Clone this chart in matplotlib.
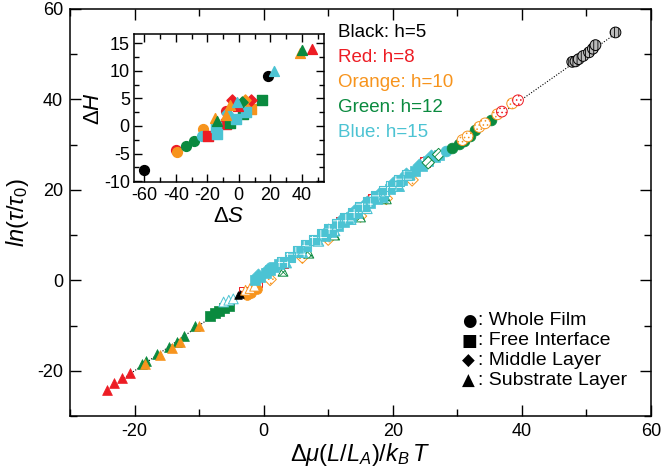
import numpy as np
import matplotlib
matplotlib.use("Agg")
import matplotlib.pyplot as plt

plt.rcParams['font.family'] = ['Liberation Sans', 'DejaVu Sans']
plt.rcParams['mathtext.fontset'] = 'custom'
plt.rcParams['mathtext.rm'] = 'Liberation Sans'
plt.rcParams['mathtext.it'] = 'Liberation Sans:italic'
plt.rcParams['axes.unicode_minus'] = False
plt.rcParams['hatch.linewidth'] = 0.6

# colours per film thickness
c_black = "#000000"
c_red = "#ed1c24"
c_orange = "#f7941d"
c_green = "#0a8a3f"
c_blue = "#4cc3d3"

# ---- main panel data ----
# h=5 (black)
h5_circ_x = [47.8, 48.3, 48.8, 49.5, 50.4, 51.0, 51.4, 54.5]
h5_circ_y = [48.3, 48.4, 48.9, 49.6, 50.4, 51.2, 52.0, 54.8]
h5_tri_x = [-4.0, -3.6]
h5_tri_y = [-3.3, -3.0]

# h=8 (red)
h8_tri_x = [-24.3, -23.2, -22.0, -20.7]
h8_tri_y = [-24.3, -22.8, -21.7, -20.4]
h8_circ_x = [36.9, 39.4]
h8_circ_y = [37.3, 39.8]
h8_sq_x = [-3.0, -1.0, 3.0, 8.0, 12.0, 17.0, 21.0, 25.0]
h8_sq_y = [-2.6, -0.3, 3.9, 9.0, 13.0, 18.1, 22.1, 26.1]

# h=10 (orange)
h10_tri_x = [-18.4, -16.0, -14.2, -12.9, -10.0]
h10_tri_y = [-18.6, -16.5, -14.9, -13.6, -10.1]
h10_otri_x = [-2.8, -2.1, -1.4]
h10_otri_y = [-2.2, -1.8, -1.3]
h10_fcirc_x = [-2.6, -2.0, -1.0]
h10_fcirc_y = [-3.3, -2.9, -2.0]
h10_circ_x = [30.8, 31.6, 33.4, 34.3, 36.2, 38.5]
h10_circ_y = [31.0, 31.8, 33.9, 34.7, 36.7, 39.1]
h10_sq_x = [1.0, 6.0, 10.0, 15.0, 19.0, 23.0]
h10_sq_y = [0.2, 5.1, 9.1, 14.2, 18.1, 22.2]

# h=12 (green)
h12_tri_x = [-18.9, -18.2, -16.5, -14.7, -13.4, -12.4, -10.6]
h12_tri_y = [-18.5, -17.8, -16.3, -14.8, -13.7, -12.2, -10.2]
h12_sq_x = [-8.3, -7.6, -6.9, -6.1, -5.4]
h12_sq_y = [-7.8, -7.2, -6.8, -6.2, -5.6]
h12_circ_x = [29.2, 30.3, 31.0, 32.0, 32.8, 35.2]
h12_circ_y = [29.3, 30.2, 30.9, 31.8, 33.3, 35.4]
h12_dia_x = [25.5, 27.1]
h12_dia_y = [26.0, 27.8]
h12_otri_x = [3.0, 7.0, 11.0, 15.0, 19.0]
h12_otri_y = [2.0, 6.0, 10.0, 14.0, 18.0]

# h=15 (blue)
h15_otri_x = [-6.2, -5.4, -4.7]
h15_otri_y = [-4.8, -4.4, -4.1]
h15_fsq_x = [-1.3, -0.5, 0.3, 1.0, 1.6, 2.3, 9.5, 10.5, 11.5, 12.5, 13.5, 14.5, 15.5, 16.5,
             17.5, 18.5, 19.5, 20.5, 21.5, 22.5, 23.5, 24.5, 25.5, 26.5, 27.2]
h15_fsq_y = [0.0, 0.8, 1.6, 2.3, 3.0, 3.7, 9.8, 10.6, 11.9, 12.8, 13.9, 14.9, 16.0, 17.1,
             18.0, 19.1, 20.1, 21.1, 22.2, 23.2, 24.2, 25.2, 26.3, 27.2, 27.8]
h15_fdia_x = [-0.8, 0.6, 10.0, 12.0, 14.0, 16.0, 18.0, 20.0, 22.0, 24.0, 26.0]
h15_fdia_y = [1.2, 2.6, 11.2, 13.3, 15.3, 17.4, 19.4, 21.5, 23.6, 25.5, 27.4]
h15_sq_x = [2.8, 4.1, 5.4, 6.6, 7.8, 9.0, 10.2, 11.4, 12.6, 13.8, 15.0, 16.2, 17.4, 18.6, 19.8, 21.0, 22.2]
h15_sq_y = [4.0, 5.2, 6.4, 7.7, 8.9, 10.1, 11.3, 12.5, 13.7, 14.9, 16.1, 17.3, 18.5, 19.7, 20.9, 22.1, 23.3]
h15_stri_x = [3.5, 6.0, 8.5, 11.0, 13.5, 16.0, 18.5, 21.0]
h15_stri_y = [3.9, 6.2, 8.7, 11.0, 13.5, 15.9, 18.4, 20.8]
h15_circ_x = [28.2]
h15_circ_y = [28.5]

# guide line
fit_x = [-22.0, 55.0]
fit_y = [-22.0, 55.0]

# ---- inset data (dS, dH) ----
in_black_x = [-60.0, 18.3]
in_black_y = [-8.0, 9.0]
in_red_circ = ([-39.7, -7.9], [-4.4, 2.7])
in_red_sq = ([-19.6, -7.9], [-1.9, 0.4])
in_red_dia = ([-4.3, 7.9], [4.7, 4.7])
in_red_tri = ([-0.5, 46.5], [3.6, 13.9])
in_or_circ = ([-39.1, -22.4], [-4.8, -0.6])
in_or_sq = ([7.7], [3.0])
in_or_dia = ([4.1], [4.7])
in_or_tri = ([-15.4, -7.9, -5.8, 39.1], [1.4, 2.0, 3.9, 13.3])
in_gr_circ = ([-33.6, -28.3], [-3.6, -2.8])
in_gr_sq = ([-5.4, 2.6, 14.7], [0.6, 2.2, 4.7])
in_gr_dia = ([2.0], [4.4])
in_gr_tri = ([-13.9, 40.1], [0.9, 13.8])
in_bl_circ = ([-23.4], [-1.8])
in_bl_sq = ([-14.3, -13.9, -1.6, 4.8], [-0.2, -1.5, 1.2, 2.5])
in_bl_dia = ([-7.5], [2.4])
in_bl_tri = ([-1.2, 22.1], [4.4, 10.0])

fig = plt.figure(figsize=(6.64, 4.72), dpi=100)
ax = fig.add_axes([0.1054, 0.1186, 0.875, 0.8625])

ax.plot(fit_x, fit_y, ls=(0, (1, 1.5)), color="black", lw=0.8, zorder=1)

s = 50
def filled(x, y, c, m, sz=s):
    ax.scatter(x, y, s=sz, marker=m, color=c, edgecolors=c, linewidths=0.5, zorder=3)

def hatched(x, y, c, m, h, sz=s, fc="white"):
    ax.scatter(x, y, s=sz, marker=m, facecolors=fc, edgecolors=c, hatch=h,
               linewidths=0.7, zorder=3)

def speckled(x, y, c, m, h, sz=s):
    # coloured fill with white hatch, coloured outline on top
    ax.scatter(x, y, s=sz, marker=m, facecolors=c, edgecolors="white", hatch=h,
               linewidths=0, zorder=3)
    ax.scatter(x, y, s=sz, marker=m, facecolors="none", edgecolors=c,
               linewidths=0.8, zorder=3)

hatched(h8_sq_x, h8_sq_y, c_red, "s", "....")
hatched(h10_sq_x, h10_sq_y, c_orange, "D", "....", sz=40)
hatched(h12_otri_x, h12_otri_y, c_green, "^", "xxx")
filled(h8_tri_x, h8_tri_y, c_red, "^")
filled(h12_tri_x, h12_tri_y, c_green, "^")
filled(h10_tri_x, h10_tri_y, c_orange, "^")
filled(h12_sq_x, h12_sq_y, c_green, "s")
hatched(h15_otri_x, h15_otri_y, c_blue, "^", "")
filled(h10_fcirc_x, h10_fcirc_y, c_orange, "o")
filled(h5_tri_x, h5_tri_y, c_black, "^", sz=30)
hatched(h10_otri_x, h10_otri_y, c_orange, "^", "")
filled(h15_fdia_x, h15_fdia_y, c_blue, "D", sz=45)
filled(h15_fsq_x, h15_fsq_y, c_blue, "s", sz=60)
speckled(h15_sq_x, h15_sq_y, c_blue, "s", "++", sz=55)
speckled(h15_stri_x, h15_stri_y, c_blue, "^", "++", sz=55)
hatched(h12_dia_x, h12_dia_y, c_green, "D", "////", sz=40)
filled(h15_circ_x, h15_circ_y, c_blue, "o", sz=60)
filled(h12_circ_x, h12_circ_y, c_green, "o", sz=60)
hatched(h10_circ_x, h10_circ_y, c_orange, "o", "....", sz=60)
hatched(h8_circ_x, h8_circ_y, c_red, "o", "....", sz=60)
hatched(h5_circ_x, h5_circ_y, c_black, "o", "||||", sz=60, fc="#bbbbbb")

ax.set_xlim(-30, 60)
ax.set_ylim(-30, 60)
ax.set_xticks([-20, 0, 20, 40, 60])
ax.set_xticks([-30, -10, 10, 30, 50], minor=True)
ax.set_yticks([-20, 0, 20, 40, 60])
ax.set_yticks([-30, -10, 10, 30, 50], minor=True)
ax.tick_params(which="both", direction="in", top=True, right=True, labelsize=13, width=1)
ax.tick_params(which="major", length=8, pad=5)
ax.tick_params(which="minor", length=5)
for sp in ax.spines.values():
    sp.set_linewidth(1.1)
ax.set_xlabel(r"$\mathit{\Delta\mu(L/L_A)/k_B\,T}$", fontsize=17, labelpad=1)
ax.set_ylabel(r"$\mathit{ln(\tau/\tau_0)}$", fontsize=17, labelpad=4)

# colour key
key_txt = ["Black: h=5", "Red: h=8", "Orange: h=10", "Green: h=12", "Blue: h=15"]
key_col = [c_black, c_red, c_orange, c_green, c_blue]
for i, (t, c) in enumerate(zip(key_txt, key_col)):
    ax.text(0.461, 0.941 - i * 0.0614, t, color=c, fontsize=13.5, transform=ax.transAxes,
            va="center", ha="left", zorder=5)

# symbol key
sym_glyph = ["\u25cf", "\u25a0", "\u25c6", "\u25b2"]
sym_txt = [": Whole Film", ": Free Interface", ": Middle Layer", ": Substrate Layer"]
for i, (g, t) in enumerate(zip(sym_glyph, sym_txt)):
    yy = 0.234 - i * 0.049
    ax.text(0.674, yy, g, fontsize=12, transform=ax.transAxes, va="center", ha="left",
            family="DejaVu Sans")
    ax.text(0.703, yy, t, fontsize=14, transform=ax.transAxes, va="center", ha="left")

# ---- inset ----
ins = fig.add_axes([0.2018, 0.6134, 0.286, 0.3146])
si = 50
ins.scatter(in_black_x, in_black_y, s=si, marker="o", color=c_black, zorder=3)
for (xy, c, m) in [(in_red_circ, c_red, "o"), (in_or_circ, c_orange, "o"),
                   (in_gr_circ, c_green, "o"), (in_bl_circ, c_blue, "o"),
                   (in_red_sq, c_red, "s"), (in_or_sq, c_orange, "s"),
                   (in_gr_sq, c_green, "s"), (in_bl_sq, c_blue, "s"),
                   (in_red_dia, c_red, "D"), (in_or_dia, c_orange, "D"),
                   (in_gr_dia, c_green, "D"), (in_bl_dia, c_blue, "D"),
                   (in_red_tri, c_red, "^"), (in_or_tri, c_orange, "^"),
                   (in_gr_tri, c_green, "^"), (in_bl_tri, c_blue, "^")]:
    ins.scatter(xy[0], xy[1], s=si if m != "D" else 32, marker=m, color=c, zorder=3)

ins.set_xlim(-66.5, 54)
ins.set_ylim(-10.25, 16.7)
ins.set_xticks([-60, -40, -20, 0, 20, 40])
ins.set_xticks([-50, -30, -10, 10, 30, 50], minor=True)
ins.set_yticks([-10, -5, 0, 5, 10, 15])
ins.set_yticks([-7.5, -2.5, 2.5, 7.5, 12.5], minor=True)
ins.tick_params(which="both", direction="in", top=True, right=True, labelsize=13, width=1, pad=3)
ins.tick_params(which="major", length=6)
ins.tick_params(which="minor", length=3.5)
for sp in ins.spines.values():
    sp.set_linewidth(1.1)
ins.set_xlabel(r"$\mathit{\Delta S}$", fontsize=16, labelpad=2)
ins.set_ylabel(r"$\mathit{\Delta H}$", fontsize=16, labelpad=0)

fig.savefig("out.png", dpi=100)
